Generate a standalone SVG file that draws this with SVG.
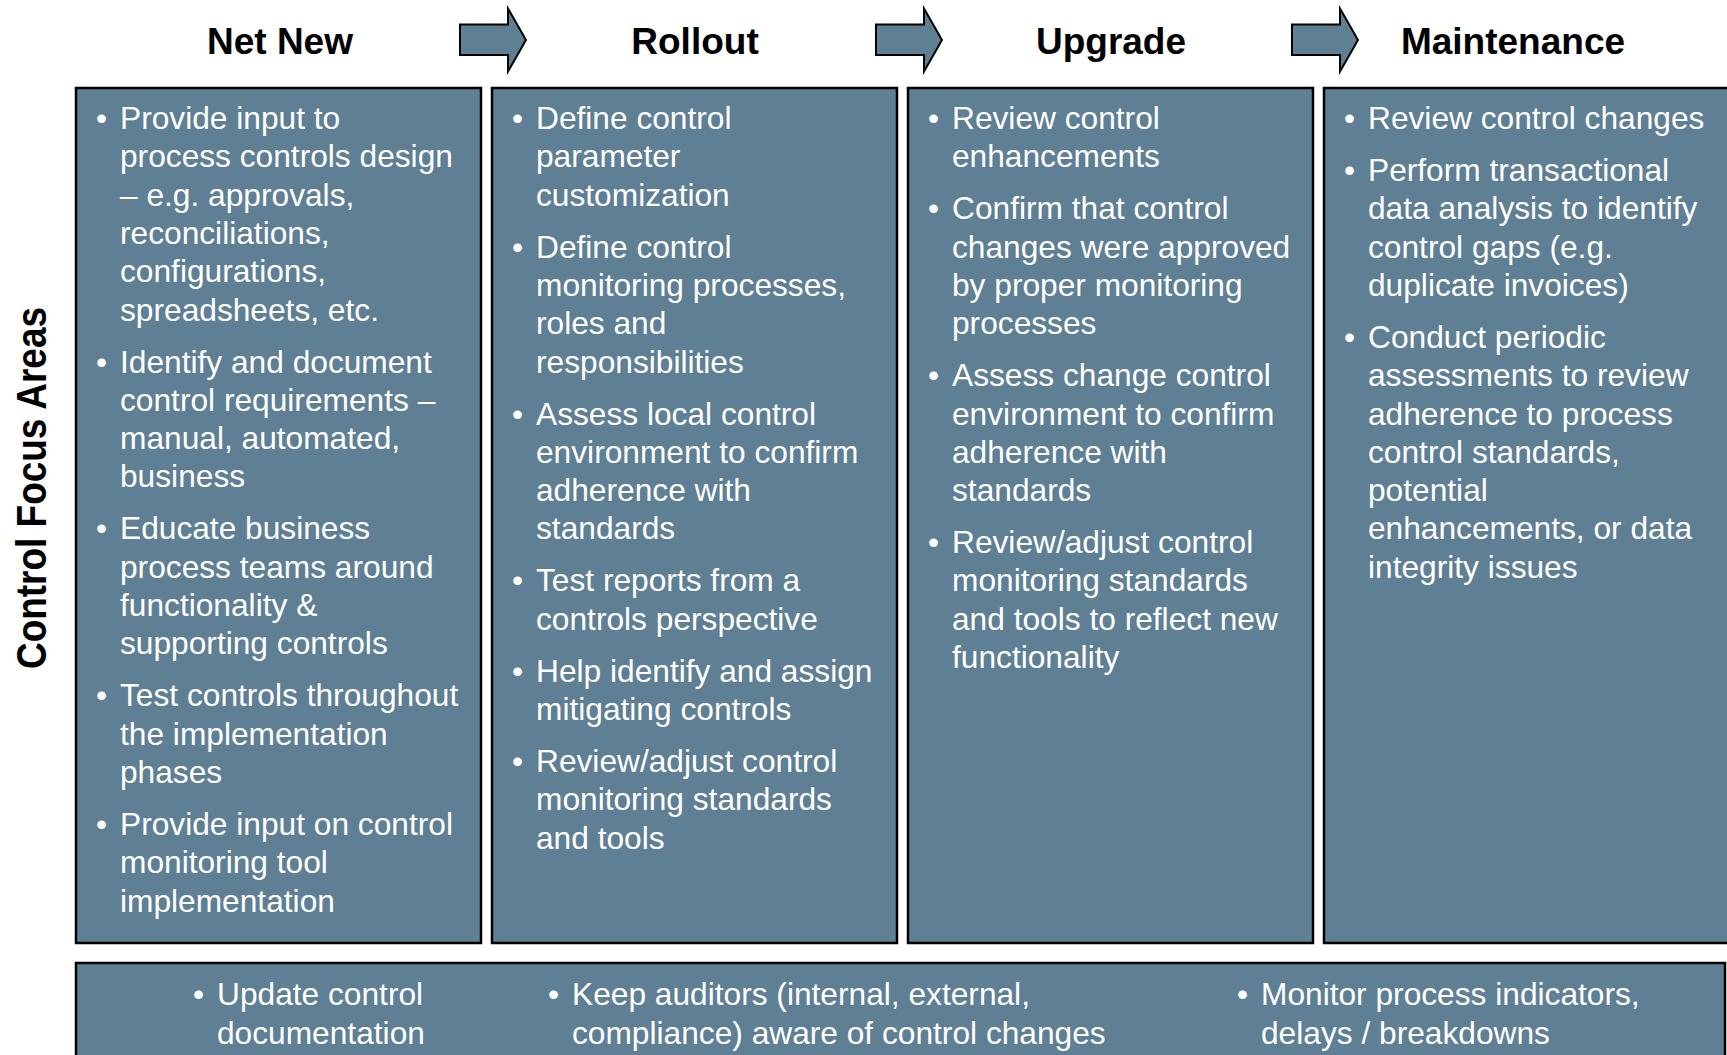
<svg xmlns="http://www.w3.org/2000/svg" width="1727" height="1055" viewBox="0 0 1727 1055">
<style>
.hdr{font-family:"Liberation Sans",Arial,sans-serif;font-weight:bold;font-size:37px;fill:#000;text-anchor:middle}
.side{font-family:"Liberation Sans",Arial,sans-serif;font-weight:bold;font-size:42px;fill:#000;text-anchor:middle}
.box{fill:#5f7f94;stroke:#000;stroke-width:2.5}
.arr{fill:#5f7f94;stroke:#000;stroke-width:2;stroke-linejoin:miter}
.t{font-family:"Liberation Sans",Arial,sans-serif;font-size:31.7px;fill:#fff}
</style>
<rect width="1727" height="1055" fill="#fff"/>

<g id="headers">
<text class="hdr" x="280" y="54">Net New</text>
<text class="hdr" x="695" y="54">Rollout</text>
<text class="hdr" x="1111" y="54">Upgrade</text>
<text class="hdr" x="1513" y="54">Maintenance</text>
</g>

<g id="side-label">
<text class="side" transform="translate(46,488) rotate(-90)" x="0" y="0" textLength="362" lengthAdjust="spacingAndGlyphs">Control Focus Areas</text>
</g>

<g id="connectors">
<polygon class="arr" points="460,24.5 508,24.5 508,8.5 526,40 508,71.5 508,55 460,55"/>
<polygon class="arr" points="876,24.5 924,24.5 924,8.5 942,40 924,71.5 924,55 876,55"/>
<polygon class="arr" points="1292,24.5 1340,24.5 1340,8.5 1358,40 1340,71.5 1340,55 1292,55"/>
</g>

<g id="net-new">
<rect class="box" x="76" y="88" width="405" height="855"/>
<text class="t"><tspan x="96" y="129">•</tspan><tspan x="120" y="129">Provide input to</tspan><tspan x="120" dy="38.3">process controls design</tspan><tspan x="120" dy="38.3">– e.g. approvals,</tspan><tspan x="120" dy="38.3">reconciliations,</tspan><tspan x="120" dy="38.3">configurations,</tspan><tspan x="120" dy="38.3">spreadsheets, etc.</tspan></text>
<text class="t"><tspan x="96" y="372.5">•</tspan><tspan x="120" y="372.5">Identify and document</tspan><tspan x="120" dy="38.3">control requirements –</tspan><tspan x="120" dy="38.3">manual, automated,</tspan><tspan x="120" dy="38.3">business</tspan></text>
<text class="t"><tspan x="96" y="539.4">•</tspan><tspan x="120" y="539.4">Educate business</tspan><tspan x="120" dy="38.3">process teams around</tspan><tspan x="120" dy="38.3">functionality &amp;</tspan><tspan x="120" dy="38.3">supporting controls</tspan></text>
<text class="t"><tspan x="96" y="706.3">•</tspan><tspan x="120" y="706.3">Test controls throughout</tspan><tspan x="120" dy="38.3">the implementation</tspan><tspan x="120" dy="38.3">phases</tspan></text>
<text class="t"><tspan x="96" y="834.9">•</tspan><tspan x="120" y="834.9">Provide input on control</tspan><tspan x="120" dy="38.3">monitoring tool</tspan><tspan x="120" dy="38.3">implementation</tspan></text>
</g>

<g id="rollout">
<rect class="box" x="492" y="88" width="405" height="855"/>
<text class="t"><tspan x="512" y="129">•</tspan><tspan x="536" y="129">Define control</tspan><tspan x="536" dy="38.3">parameter</tspan><tspan x="536" dy="38.3">customization</tspan></text>
<text class="t"><tspan x="512" y="257.6">•</tspan><tspan x="536" y="257.6">Define control</tspan><tspan x="536" dy="38.3">monitoring processes,</tspan><tspan x="536" dy="38.3">roles and</tspan><tspan x="536" dy="38.3">responsibilities</tspan></text>
<text class="t"><tspan x="512" y="424.5">•</tspan><tspan x="536" y="424.5">Assess local control</tspan><tspan x="536" dy="38.3">environment to confirm</tspan><tspan x="536" dy="38.3">adherence with</tspan><tspan x="536" dy="38.3">standards</tspan></text>
<text class="t"><tspan x="512" y="591.4">•</tspan><tspan x="536" y="591.4">Test reports from a</tspan><tspan x="536" dy="38.3">controls perspective</tspan></text>
<text class="t"><tspan x="512" y="681.7">•</tspan><tspan x="536" y="681.7">Help identify and assign</tspan><tspan x="536" dy="38.3">mitigating controls</tspan></text>
<text class="t"><tspan x="512" y="772">•</tspan><tspan x="536" y="772">Review/adjust control</tspan><tspan x="536" dy="38.3">monitoring standards</tspan><tspan x="536" dy="38.3">and tools</tspan></text>
</g>

<g id="upgrade">
<rect class="box" x="908" y="88" width="405" height="855"/>
<text class="t"><tspan x="928" y="129">•</tspan><tspan x="952" y="129">Review control</tspan><tspan x="952" dy="38.3">enhancements</tspan></text>
<text class="t"><tspan x="928" y="219.3">•</tspan><tspan x="952" y="219.3">Confirm that control</tspan><tspan x="952" dy="38.3">changes were approved</tspan><tspan x="952" dy="38.3">by proper monitoring</tspan><tspan x="952" dy="38.3">processes</tspan></text>
<text class="t"><tspan x="928" y="386.2">•</tspan><tspan x="952" y="386.2">Assess change control</tspan><tspan x="952" dy="38.3">environment to confirm</tspan><tspan x="952" dy="38.3">adherence with</tspan><tspan x="952" dy="38.3">standards</tspan></text>
<text class="t"><tspan x="928" y="553.1">•</tspan><tspan x="952" y="553.1">Review/adjust control</tspan><tspan x="952" dy="38.3">monitoring standards</tspan><tspan x="952" dy="38.3">and tools to reflect new</tspan><tspan x="952" dy="38.3">functionality</tspan></text>
</g>

<g id="maintenance">
<rect class="box" x="1324" y="88" width="405" height="855"/>
<text class="t"><tspan x="1344" y="129">•</tspan><tspan x="1368" y="129">Review control changes</tspan></text>
<text class="t"><tspan x="1344" y="181">•</tspan><tspan x="1368" y="181">Perform transactional</tspan><tspan x="1368" dy="38.3">data analysis to identify</tspan><tspan x="1368" dy="38.3">control gaps (e.g.</tspan><tspan x="1368" dy="38.3">duplicate invoices)</tspan></text>
<text class="t"><tspan x="1344" y="347.9">•</tspan><tspan x="1368" y="347.9">Conduct periodic</tspan><tspan x="1368" dy="38.3">assessments to review</tspan><tspan x="1368" dy="38.3">adherence to process</tspan><tspan x="1368" dy="38.3">control standards,</tspan><tspan x="1368" dy="38.3">potential</tspan><tspan x="1368" dy="38.3">enhancements, or data</tspan><tspan x="1368" dy="38.3">integrity issues</tspan></text>
</g>

<g id="ongoing">
<rect class="box" x="76" y="963" width="1649" height="130"/>
<text class="t"><tspan x="193" y="1005">•</tspan><tspan x="217" y="1005">Update control</tspan><tspan x="217" dy="38.5">documentation</tspan></text>
<text class="t"><tspan x="548" y="1005">•</tspan><tspan x="572" y="1005">Keep auditors (internal, external,</tspan><tspan x="572" dy="38.5">compliance) aware of control changes</tspan></text>
<text class="t"><tspan x="1237" y="1005">•</tspan><tspan x="1261" y="1005">Monitor process indicators,</tspan><tspan x="1261" dy="38.5">delays / breakdowns</tspan></text>
</g>
</svg>
